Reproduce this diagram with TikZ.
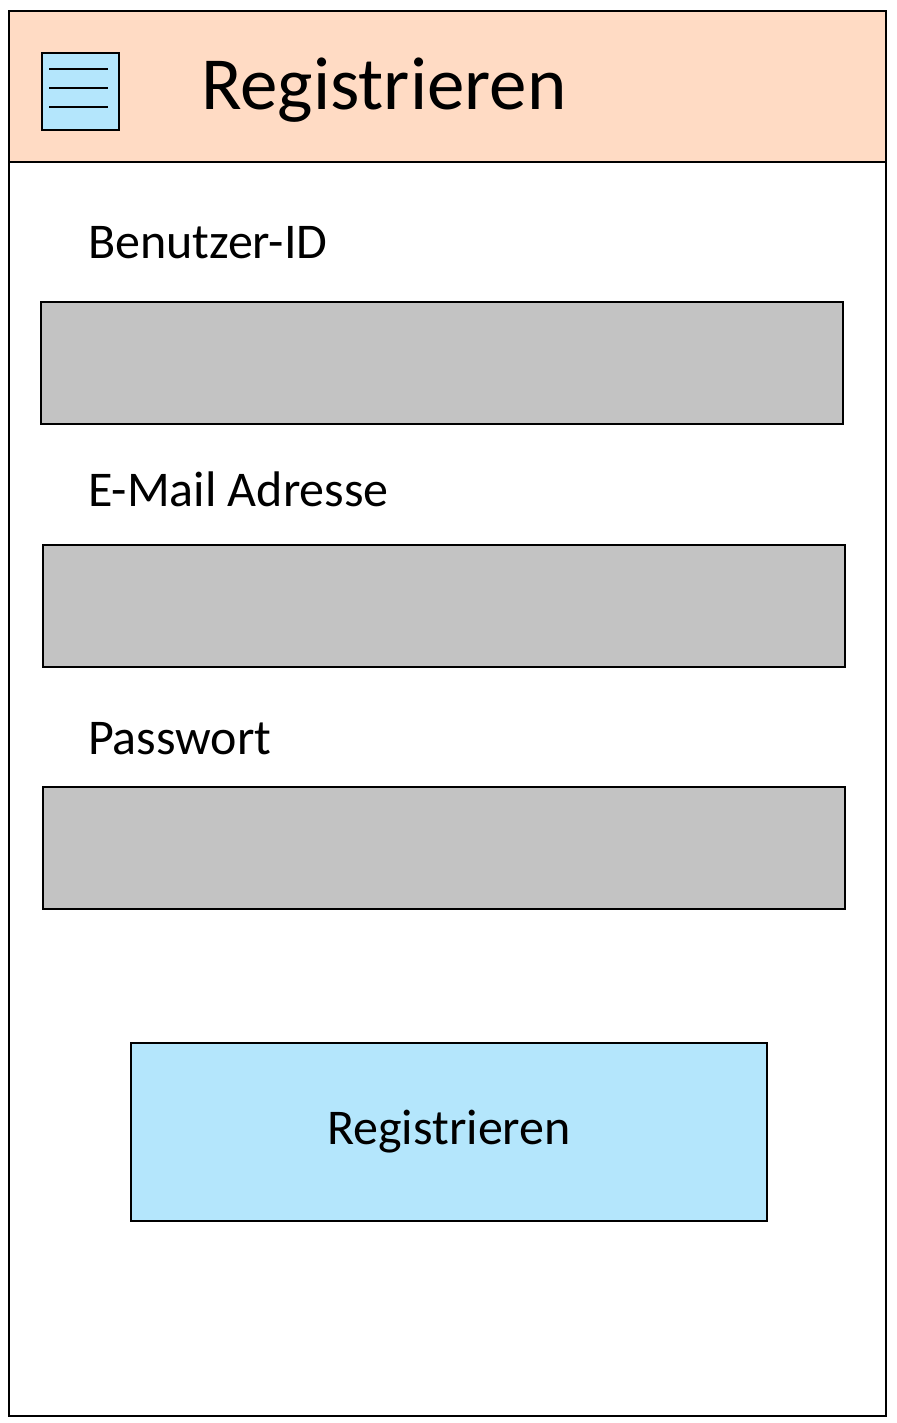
\documentclass[tikz,border=0pt]{standalone}
\usepackage{fontspec}
\setmainfont{Carlito}
\usepackage{tikz}
\usetikzlibrary{positioning}

\definecolor{headbg}{RGB}{255,219,196}
\definecolor{btnbg}{RGB}{180,230,252}
\definecolor{fieldbg}{RGB}{195,195,195}

\begin{document}
\begin{tikzpicture}[x=0.5pt, y=-0.5pt, line width=1pt]
        \tikzset{field/.style={draw, fill=fieldbg, anchor=north west, inner sep=0pt,
                minimum width=401pt, minimum height=61pt}}
        \tikzset{label/.style={anchor=base west, inner sep=0pt, font=\fontsize{25}{30}\selectfont}}
        % Keep the page at the size of the screen
        \useasboundingbox (0,0) rectangle (897,1423);

        \node[draw, fill=white, anchor=north west, inner sep=0pt, minimum width=438.5pt, minimum height=702.5pt] (screen) at (8,10) {};
        \node[draw, fill=headbg, anchor=north west, inner sep=0pt, minimum width=438.5pt, minimum height=75.5pt] (header) at (8,10) {};
        \node[draw, fill=btnbg, anchor=north west, inner sep=0pt, minimum width=38.5pt, minimum height=38.5pt] (menu) at (41,52) {};
        \foreach \y in {69,88,107}
            \draw (49,\y) -- (108,\y);
        \node[anchor=base west, inner sep=0pt, font=\fontsize{37.5}{45}\selectfont] (title) at (200,110) {Registrieren};

        \node[label] (lbl_id) at (87,258) {Benutzer-ID};
        \node[field] (f_id) at (40,301) {};
        \node[label] (lbl_mail) at (87,506) {E-Mail Adresse};
        \node[field] (f_mail) at (42,544) {};
        \node[label] (lbl_pw) at (87,754) {Passwort};
        \node[field] (f_pw) at (42,786) {};

        \node[draw, fill=btnbg, anchor=north west, inner sep=0pt, minimum width=318pt, minimum height=89pt,
            font=\fontsize{25}{30}\selectfont] (btn) at (130,1042) {Registrieren};
    \end{tikzpicture}
\end{document}
